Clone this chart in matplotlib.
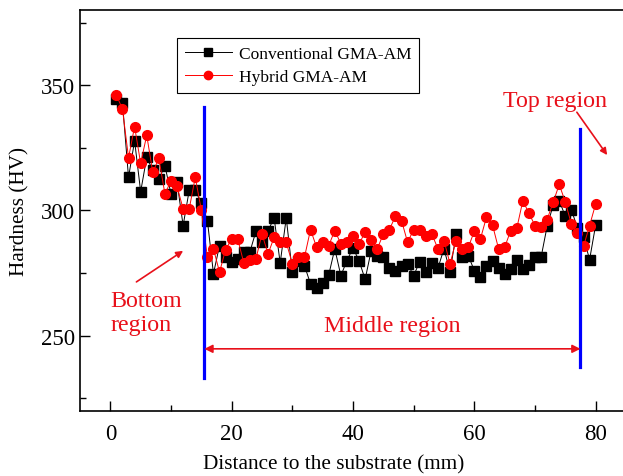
import matplotlib.pyplot as plt
from matplotlib.ticker import MultipleLocator

plt.rcParams["font.family"] = ["Liberation Serif", "DejaVu Serif"]
plt.rcParams["mathtext.fontset"] = "stix"

## distance to the substrate (mm), one point per mm
distance = list(range(1, 81))

conventional = [
    344.4, 343.0, 313.2, 327.8, 307.5, 321.2, 316.0, 312.5, 317.9, 306.6,
    311.2, 294.0, 308.0, 308.0, 303.0, 296.0, 274.8, 286.0, 281.3, 279.4,
    280.7, 283.4, 283.4, 291.7, 287.6, 292.0, 297.0, 279.1, 297.0, 275.4,
    280.0, 278.0, 270.7, 269.0, 271.1, 274.3, 284.7, 274.0, 280.0, 285.0,
    280.0, 272.5, 284.0, 282.0, 281.3, 277.2, 276.0, 278.0, 278.7, 274.0,
    279.6, 275.4, 279.1, 277.0, 284.7, 275.6, 290.6, 281.3, 282.0, 276.0,
    273.4, 278.0, 280.0, 277.2, 274.8, 276.7, 280.3, 276.7, 278.3, 281.3,
    281.3, 293.7, 302.2, 303.9, 297.7, 300.3, 293.0, 289.3, 280.4, 294.2,
]

hybrid = [
    346.0, 340.5, 321.0, 333.5, 318.8, 330.0, 315.2, 320.8, 306.6, 311.9,
    309.6, 300.6, 300.6, 313.2, 300.2, 281.3, 284.7, 275.4, 284.4, 288.6,
    288.6, 279.1, 280.4, 280.7, 290.6, 282.7, 289.3, 287.3, 287.3, 278.7,
    281.3, 281.3, 292.4, 285.3, 287.6, 286.0, 292.0, 286.7, 287.3, 290.0,
    286.7, 291.3, 288.4, 284.7, 290.6, 292.4, 297.7, 296.0, 287.3, 292.4,
    292.4, 289.8, 290.6, 284.7, 288.0, 278.7, 288.0, 284.7, 285.3, 291.7,
    288.6, 297.3, 294.2, 284.7, 285.3, 292.0, 292.9, 303.9, 298.9, 294.0,
    293.3, 296.4, 303.3, 310.4, 303.3, 294.6, 291.0, 285.7, 294.0, 302.6,
]

## region borders (mm)
region_borders = [15.5, 77.5]

fig = plt.figure(figsize=(6.23, 4.77), dpi=100)
ax = fig.add_axes([0.1284, 0.1363, 0.8764, 0.8407])

ax.plot(distance, conventional, color="black", lw=0.7, marker="s",
        ms=6.5, mfc="black", mec="black", label="Conventional GMA-AM")
ax.plot(distance, hybrid, color="red", lw=0.7, marker="o",
        ms=7, mfc="red", mec="red", label="Hybrid GMA-AM")

## blue region borders
ax.plot([region_borders[0]] * 2, [233.3, 341.2], color="blue", lw=2.3)
ax.plot([region_borders[1]] * 2, [237.6, 332.5], color="blue", lw=2.3)

## annotations
red = "#e8101a"
ax.annotate("", xy=(region_borders[0], 244.8), xytext=(region_borders[1], 244.8),
            arrowprops=dict(arrowstyle="<|-|>", color=red, lw=1.2,
                            mutation_scale=12, shrinkA=0, shrinkB=0))
ax.text(46.5, 254.3, "Middle region", color=red, fontsize=17.3,
        ha="center", va="center")
ax.text(0.0, 259.3, "Bottom\nregion", color=red, fontsize=17.3,
        ha="left", va="center", linespacing=1.2)
ax.annotate("", xy=(12.0, 283.9), xytext=(4.3, 271.5),
            arrowprops=dict(arrowstyle="-|>", color=red, lw=1.2,
                            mutation_scale=10, shrinkA=0, shrinkB=0))
ax.text(73.3, 343.8, "Top region", color=red, fontsize=17.3,
        ha="center", va="center")
ax.annotate("", xy=(81.9, 322.1), xytext=(76.9, 339.2),
            arrowprops=dict(arrowstyle="-|>", color=red, lw=1.2,
                            mutation_scale=10, shrinkA=0, shrinkB=0))

ax.set_xlim(-5, 85)
ax.set_ylim(220, 380)
ax.xaxis.set_major_locator(MultipleLocator(20))
ax.xaxis.set_minor_locator(MultipleLocator(10))
ax.yaxis.set_major_locator(MultipleLocator(50))
ax.yaxis.set_minor_locator(MultipleLocator(25))
ax.tick_params(which="both", direction="in", labelsize=16.5, width=1)
ax.tick_params(which="major", length=7)
ax.tick_params(which="minor", length=4)
ax.tick_params(axis="x", pad=9)
for s in ax.spines.values():
    s.set_linewidth(1.2)

ax.set_xlabel("Distance to the substrate (mm)", fontsize=15.3)
ax.xaxis.set_label_coords(0.465, -0.107)
ax.set_ylabel("Hardness (HV)", fontsize=15.3, labelpad=8)

leg = ax.legend(loc="upper left", bbox_to_anchor=(0.178, 0.930), fontsize=12.5,
                frameon=True, fancybox=False, framealpha=1, edgecolor="black",
                handlelength=2.7, borderpad=0.45, labelspacing=0.42,
                handletextpad=0.4, borderaxespad=0)
leg.get_frame().set_linewidth(0.8)
for h in leg.legend_handles:
    h.set_markersize(6)

fig.savefig("out.png", dpi=100)
